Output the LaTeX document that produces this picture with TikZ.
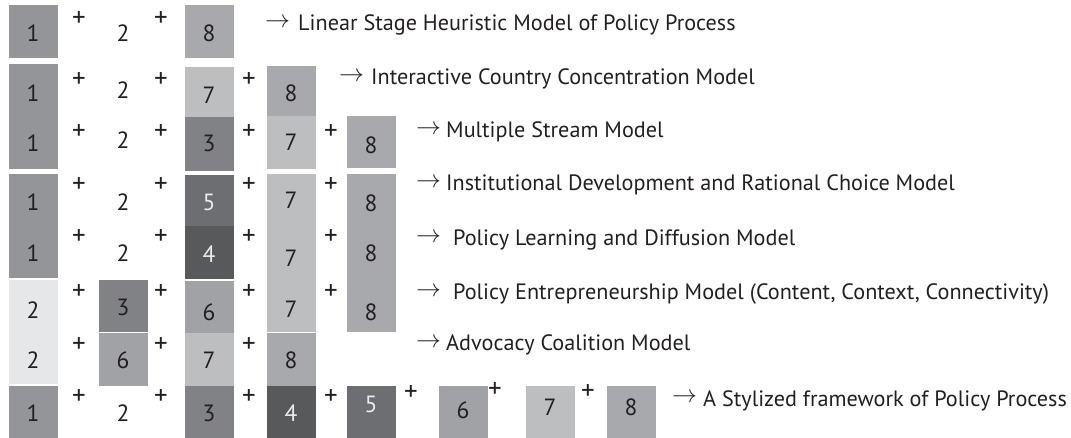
\documentclass[tikz,border=0pt]{standalone}
\usepackage{fontspec}
\setmainfont{PT Sans}
\definecolor{cOne}{HTML}{939598}
\definecolor{cEight}{HTML}{A7A9AC}
\definecolor{cSeven}{HTML}{BCBEC0}
\definecolor{cThree}{HTML}{808285}
\definecolor{cFive}{HTML}{6D6E71}
\definecolor{cFour}{HTML}{58595B}
\definecolor{cSix}{HTML}{A0A2A5}
\definecolor{cLight}{HTML}{E6E7E8}
\definecolor{ink}{HTML}{231F20}
\begin{document}
\begin{tikzpicture}[x=1pt,y=-1pt,
  box/.style={draw=none,inner sep=0pt,anchor=north west,minimum width=49pt},
  num/.style={inner sep=0pt,text=ink,font=\fontsize{23.5}{23}\selectfont},
  wnum/.style={num,text=white!92!black},
  plus/.style={inner sep=0pt,text=ink,font=\fontsize{27}{27}\selectfont},
  arr/.style={inner sep=0pt,anchor=west,text=ink,font=\fontsize{23}{23}\selectfont},
  lbl/.style={inner sep=0pt,anchor=base west,text=ink,font=\fontsize{22.2}{22}\selectfont}]
\useasboundingbox (0,0) rectangle (1071,438);
% ---- boxes, column 1
\node[box,fill=cOne,minimum height=53pt] (a1) at (9,5) {};
\node[box,fill=cOne,minimum height=105pt] (a23) at (9,64) {};
\node[box,fill=cOne,minimum height=104pt] (a45) at (9,174) {};
\node[box,fill=cLight,minimum height=104pt] (a67) at (9,280) {};
\node[box,fill=cOne,minimum height=52pt] (a8) at (9,386) {};
% column 2
\node[box,fill=cThree,minimum height=52pt] (b6) at (99,280) {};
\node[box,fill=cSix,minimum height=53pt] (b7) at (99,333) {};
% column 3
\node[box,fill=cEight,minimum height=53pt] (c1) at (185,5) {};
\node[box,fill=cSeven,minimum height=50pt] (c2) at (185,67) {};
\node[box,fill=cThree,minimum height=54pt] (c3) at (185,117) {};
\node[box,fill=cFive,minimum height=51pt] (c4) at (185,175) {};
\node[box,fill=cFour,minimum height=53pt] (c5) at (185,226) {};
\node[box,fill=cSix,minimum height=52pt] (c6) at (185,281) {};
\node[box,fill=cSeven,minimum height=53pt] (c7) at (185,333) {};
\node[box,fill=cThree,minimum height=52pt] (c8) at (185,386) {};
% column 4
\node[box,fill=cEight,minimum height=50pt] (d2) at (267,66) {};
\node[box,fill=cSeven,minimum height=53pt] (d3) at (267,116) {};
\node[box,fill=cSeven,minimum height=158pt] (d456) at (267,174) {};
\node[box,fill=cEight,minimum height=53pt] (d7) at (267,333) {};
\node[box,fill=cFour,minimum height=52pt] (d8) at (267,386) {};
% column 5
\node[box,fill=cEight,minimum height=52pt] (e3) at (347,116) {};
\node[box,fill=cEight,minimum height=158pt] (e456) at (347,174) {};
\node[box,fill=cFive,minimum height=52pt] (e8) at (347,386) {};
% row 8 extra
\node[box,fill=cSix,minimum height=52pt] (f8) at (439,386) {};
\node[box,fill=cSeven,minimum height=52pt] (g8) at (526,386) {};
\node[box,fill=cEight,minimum height=52pt] (h8) at (607,386) {};
% ---- numbers column 1
\node[num] (n11) at (33,33) {1};
\node[num] (n21) at (33,93) {1};
\node[num] (n31) at (33,143) {1};
\node[num] (n41) at (33,202) {1};
\node[num] (n51) at (33,253) {1};
\node[num] (n61) at (33,310) {2};
\node[num] (n71) at (33,360) {2};
\node[num] (n81) at (33,413) {1};
% column 2
\node[num] (n12) at (123,33) {2};
\node[num] (n22) at (123,90) {2};
\node[num] (n32) at (123,140) {2};
\node[num] (n42) at (123,202) {2};
\node[num] (n52) at (123,253) {2};
\node[num] (n62) at (123,307) {3};
\node[num] (n72) at (123,360) {6};
\node[num] (n82) at (123,413) {2};
% column 3
\node[num] (n13) at (209,33) {8};
\node[num] (n23) at (209,95) {7};
\node[num] (n33) at (209,143) {3};
\node[wnum] (n43) at (209,202) {5};
\node[wnum] (n53) at (209,254) {4};
\node[num] (n63) at (209,312) {6};
\node[num] (n73) at (209,360) {7};
\node[num] (n83) at (209,413) {3};
% column 4
\node[num] (n24) at (291,93) {8};
\node[num] (n34) at (291,142) {7};
\node[num] (n44) at (291,200) {7};
\node[num] (n54) at (291,258) {7};
\node[num] (n64) at (291,309) {7};
\node[num] (n74) at (291,360) {8};
\node[wnum] (n84) at (291,413) {4};
% column 5
\node[num] (n35) at (371,145) {8};
\node[num] (n45) at (371,203) {8};
\node[num] (n55) at (371,253) {8};
\node[num] (n65) at (371,312) {8};
\node[wnum] (n85) at (371,404) {5};
% row 8 extra
\node[num] (n86) at (463,410) {6};
\node[num] (n87) at (550,407) {7};
\node[num] (n88) at (631,407) {8};
% ---- plus signs
\foreach \r/\y/\k in {1/19/2,2/80/3,3/132/4,4/185/4,5/237/4,6/292/4,7/345/3,8/397/4}{
  \foreach \x [count=\i] in {79,161,249,331}{
    \ifnum\i>\k\relax\else
      \node[plus] (p\r\i) at (\x,\y) {+};
    \fi
  }
}
\node[plus] (p85) at (411,393) {+};
\node[plus] (p86) at (495,390) {+};
\node[plus] (p87) at (588,392) {+};
% ---- arrows and labels
\node[arr] (r1) at (265,23) {$\rightarrow$};
\node[lbl] (l1) at (298,31) {Linear Stage Heuristic Model of Policy Process};
\node[arr] (r2) at (339,77) {$\rightarrow$};
\node[lbl] (l2) at (371,85) {Interactive Country Concentration Model};
\node[arr] (r3) at (416,130) {$\rightarrow$};
\node[lbl] (l3) at (446,138) {Multiple Stream Model};
\node[arr] (r4) at (416,183) {$\rightarrow$};
\node[lbl] (l4) at (446,191) {Institutional Development and Rational Choice Model};
\node[arr] (r5) at (416,238) {$\rightarrow$};
\node[lbl] (l5) at (453,246) {Policy Learning and Diffusion Model};
\node[arr] (r6) at (416,292) {$\rightarrow$};
\node[lbl] (l6) at (453,300) {Policy Entrepreneurship Model (Content, Context, Connectivity)};
\node[arr] (r7) at (416,343) {$\rightarrow$};
\node[lbl] (l7) at (446,351) {Advocacy Coalition Model};
\node[arr] (r8) at (672,398) {$\rightarrow$};
\node[lbl] (l8) at (703,406) {A Stylized framework of Policy Process};
\end{tikzpicture}
\end{document}
